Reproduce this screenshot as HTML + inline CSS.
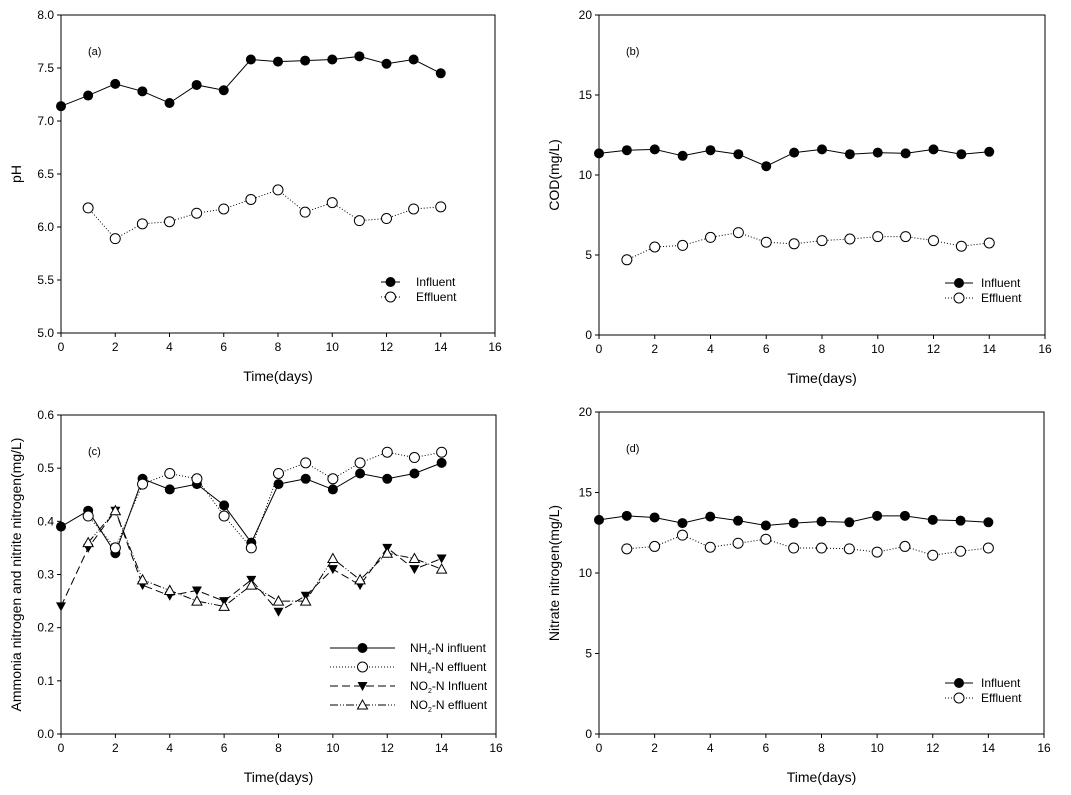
<!DOCTYPE html>
<html><head><meta charset="utf-8"><style>
body{margin:0;background:#fff}
svg{display:block;font-family:"Liberation Sans",Arial,sans-serif}
</style></head><body>
<svg id="s" width="1071" height="795" viewBox="0 0 1071 795" xmlns="http://www.w3.org/2000/svg"></svg>
<script>
const S=document.getElementById('s');let h='';
function panel(o){
 const {x0,x1,y0,y1,ymin,ymax,ystep,yfmt,label,tag,series,legend}=o;
 const X=v=>x0+(x1-x0)*v/16, Y=v=>y1-(y1-y0)*(v-ymin)/(ymax-ymin);
 h+=`<rect x="${x0}" y="${y0}" width="${x1-x0}" height="${y1-y0}" fill="none" stroke="#000" stroke-width="1"/>`;
 for(let v=0;v<=16;v+=2){h+=`<line x1="${X(v)}" y1="${y1}" x2="${X(v)}" y2="${y1+4}" stroke="#000"/><text x="${X(v)}" y="${y1+18}" font-size="12" text-anchor="middle">${v}</text>`;}
 for(let v=ymin;v<=ymax+1e-9;v+=ystep){const y=Y(v);h+=`<line x1="${x0-4}" y1="${y}" x2="${x0}" y2="${y}" stroke="#000"/><text x="${x0-7}" y="${y+4}" font-size="12" text-anchor="end">${yfmt(v)}</text>`;}
 h+=`<text x="${(x0+x1)/2}" y="${y1+48}" font-size="14" text-anchor="middle">Time(days)</text>`;
 const lx=x0-40, ly=(y0+y1)/2;
 h+=`<text transform="translate(${lx},${ly}) rotate(-90)" font-size="14" text-anchor="middle">${label}</text>`;
 h+=`<text x="${x0+27}" y="${y0+40}" font-size="11">${tag}</text>`;
 series.forEach(s=>{
  const pts=s.d.map((v,i)=>[X(i+s.st),Y(v)]);
  h+=`<polyline points="${pts.map(p=>p.join(',')).join(' ')}" fill="none" stroke="#000" stroke-width="1" ${s.dash?`stroke-dasharray="${s.dash}"`:''}/>`;
  pts.forEach(p=>h+=mk(s.m,p[0],p[1]));
 });
 legend.forEach(l=>{
  h+=`<line x1="${l.x1}" y1="${l.y}" x2="${l.x2}" y2="${l.y}" stroke="#000" ${l.dash?`stroke-dasharray="${l.dash}"`:''}/>`+mk(l.m,(l.x1+l.x2)/2,l.y);
  h+=`<text x="${l.tx}" y="${l.y+4}" font-size="12">${l.t}</text>`;
 });
}
function mk(m,x,y){
 if(m==='f')return `<circle cx="${x}" cy="${y}" r="5" fill="#000"/>`;
 if(m==='o')return `<circle cx="${x}" cy="${y}" r="5" fill="#fff" stroke="#000"/>`;
 if(m==='v')return `<polygon points="${x-5},${y-4} ${x+5},${y-4} ${x},${y+5}" fill="#000"/>`;
 if(m==='t')return `<polygon points="${x-5},${y+4} ${x+5},${y+4} ${x},${y-5}" fill="#fff" stroke="#000"/>`;
}
const f1=v=>v.toFixed(1), f0=v=>Math.round(v).toString();
panel({x0:61,x1:495,y0:15,y1:333,ymin:5,ymax:8,ystep:0.5,yfmt:f1,label:'pH',tag:'(a)',
 series:[{st:0,m:'f',d:[7.14,7.24,7.35,7.28,7.17,7.34,7.29,7.58,7.56,7.57,7.58,7.61,7.54,7.58,7.45]},
 {st:1,m:'o',dash:'1,2',d:[6.18,5.89,6.03,6.05,6.13,6.17,6.26,6.35,6.14,6.23,6.06,6.08,6.17,6.19]}],
 legend:[{x1:381,x2:400,y:282,m:'f',t:'Influent',tx:416},{x1:381,x2:400,y:297,m:'o',dash:'1,2',t:'Effluent',tx:416}]});
panel({x0:599,x1:1045,y0:15,y1:335,ymin:0,ymax:20,ystep:5,yfmt:f0,label:'COD(mg/L)',tag:'(b)',
 series:[{st:0,m:'f',d:[11.35,11.55,11.6,11.2,11.55,11.3,10.55,11.4,11.6,11.3,11.4,11.35,11.6,11.3,11.45]},
 {st:1,m:'o',dash:'1,2',d:[4.7,5.5,5.6,6.1,6.4,5.8,5.7,5.9,6.0,6.15,6.15,5.9,5.55,5.75]}],
 legend:[{x1:945,x2:973,y:283,m:'f',t:'Influent',tx:981},{x1:945,x2:973,y:298,m:'o',dash:'1,2',t:'Effluent',tx:981}]});
panel({x0:61,x1:496,y0:415,y1:734,ymin:0,ymax:0.6,ystep:0.1,yfmt:f1,label:'Ammonia nitrogen and nitrite nitrogen(mg/L)',tag:'(c)',
 series:[{st:0,m:'f',d:[.39,.42,.34,.48,.46,.47,.43,.36,.47,.48,.46,.49,.48,.49,.51]},
 {st:1,m:'o',dash:'1,2',d:[.41,.35,.47,.49,.48,.41,.35,.49,.51,.48,.51,.53,.52,.53]},
 {st:0,m:'v',dash:'8,4',d:[.24,.35,.42,.28,.26,.27,.25,.29,.23,.26,.31,.28,.35,.31,.33]},
 {st:1,m:'t',dash:'8,2,1,2,1,2',d:[.36,.42,.29,.27,.25,.24,.28,.25,.25,.33,.29,.34,.33,.31]}],
 legend:[{x1:330,x2:395,y:648,m:'f',t:'NH<tspan font-size="7" dy="3">4</tspan><tspan dy="-3">-N influent</tspan>',tx:410},
 {x1:330,x2:395,y:667,m:'o',dash:'1,2',t:'NH<tspan font-size="7" dy="3">4</tspan><tspan dy="-3">-N effluent</tspan>',tx:410},
 {x1:330,x2:395,y:686,m:'v',dash:'8,4',t:'NO<tspan font-size="7" dy="3">2</tspan><tspan dy="-3">-N Influent</tspan>',tx:410},
 {x1:330,x2:395,y:705,m:'t',dash:'8,2,1,2,1,2',t:'NO<tspan font-size="7" dy="3">2</tspan><tspan dy="-3">-N effluent</tspan>',tx:410}]});
panel({x0:599,x1:1044,y0:412,y1:734,ymin:0,ymax:20,ystep:5,yfmt:f0,label:'Nitrate nitrogen(mg/L)',tag:'(d)',
 series:[{st:0,m:'f',d:[13.3,13.55,13.45,13.1,13.5,13.25,12.95,13.1,13.2,13.15,13.55,13.55,13.3,13.25,13.15]},
 {st:1,m:'o',dash:'1,2',d:[11.5,11.65,12.35,11.6,11.85,12.1,11.55,11.55,11.5,11.3,11.65,11.1,11.35,11.55]}],
 legend:[{x1:945,x2:973,y:683,m:'f',t:'Influent',tx:981},{x1:945,x2:973,y:698,m:'o',dash:'1,2',t:'Effluent',tx:981}]});
S.innerHTML=h;
</script>
</body></html>
